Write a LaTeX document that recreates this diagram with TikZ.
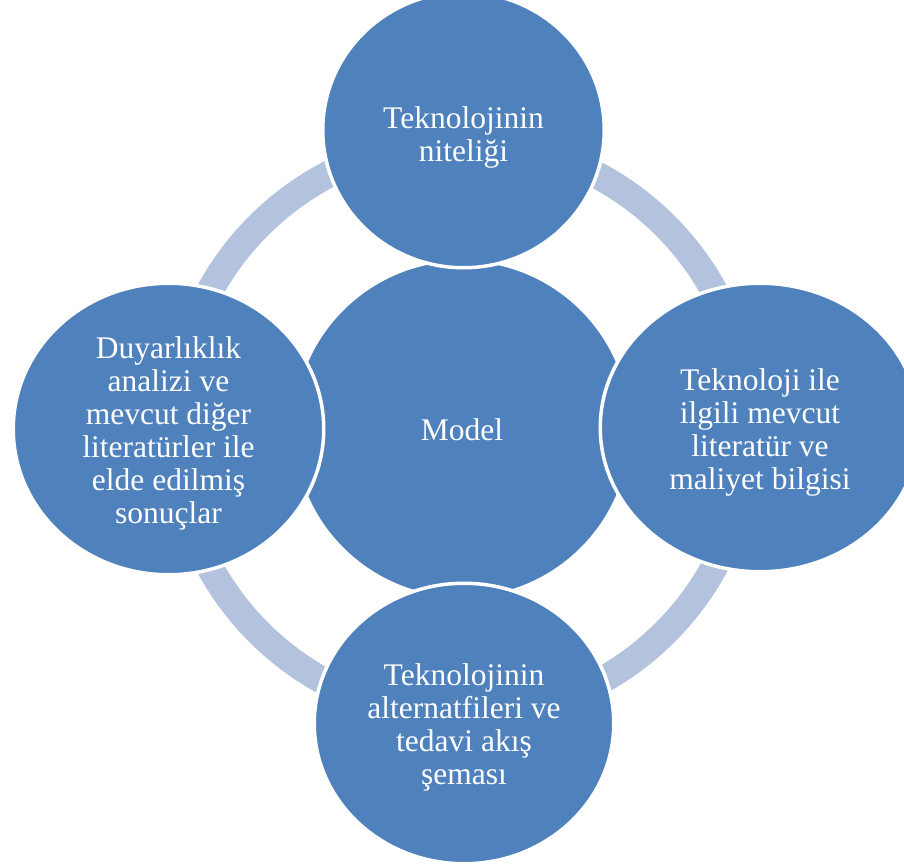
\documentclass[tikz,border=0pt]{standalone}
\usepackage{fontspec}
\setmainfont{Liberation Serif}
\usetikzlibrary{shapes.geometric}
\definecolor{accblue}{HTML}{4F81BD}
\definecolor{ringblue}{HTML}{B3C2DD}
\begin{document}
\begin{tikzpicture}[x=1pt,y=-1pt,
  bubble/.style={ellipse, fill=accblue, draw=white, line width=3.5pt, inner sep=0pt, outer sep=0pt},
  btext/.style={align=center, text=white, inner sep=0pt, font=\fontsize{31.5}{33}\selectfont}]
\useasboundingbox (0,0) rectangle (904,864);
\clip (0,0) rectangle (904,864);
\coordinate (ringc) at (462,429);
\draw[ringblue, line width=27pt] (ringc) circle [radius=287.5pt];
\node[bubble, minimum width=339pt, minimum height=339pt] (model) at (ringc) {};
\node[btext] (model-t) at ([yshift=-1pt]model.center) {Model};
\node[bubble, minimum width=281.5pt, minimum height=275.5pt] (top) at (463.5,130) {};
\node[btext] (top-t) at ([yshift=-7pt]top.center) {Teknolojinin\\niteliği};
\node[bubble, minimum width=319.5pt, minimum height=288.5pt] (right) at (760,427.5) {};
\node[btext] (right-t) at ([yshift=-5pt]right.center) {Teknoloji ile\\ilgili mevcut\\literatür ve\\maliyet bilgisi};
\node[bubble, minimum width=299.5pt, minimum height=280.5pt] (bottom) at (464,723.5) {};
\node[btext] (bottom-t) at ([yshift=-4pt]bottom.center) {Teknolojinin\\alternatfileri ve\\tedavi akış\\şeması};
\node[bubble, minimum width=310.5pt, minimum height=291.5pt] (left) at (168.5,429) {};
\node[btext] (left-t) at ([yshift=-4pt]left.center) {Duyarlıklık\\analizi ve\\mevcut diğer\\literatürler ile\\elde edilmiş\\sonuçlar};
\end{tikzpicture}
\end{document}
